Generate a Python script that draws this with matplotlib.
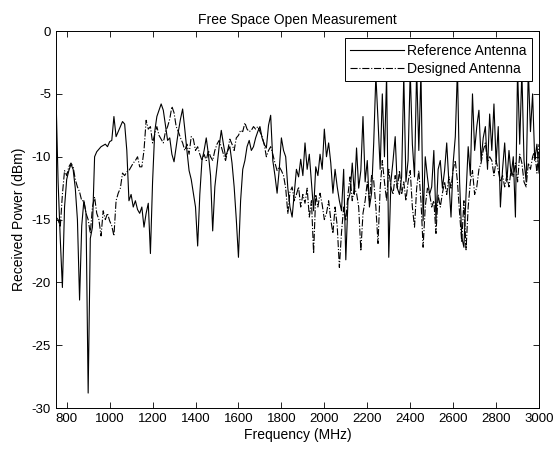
import numpy as np
from matplotlib import pyplot as plt

# frequency grid (MHz), 10 MHz step
freq = np.arange(750, 3001, 10)

# received power (dBm)
reference = [
    -5.0, -12.0, -16.5, -20.4, -14.0, -11.8, -11.1, -10.6, -11.0, -12.5,
    -15.0, -21.4, -15.5, -13.5, -14.5, -28.8, -16.5, -15.6, -10.0, -9.6,
    -9.4, -9.2, -9.1, -9.0, -9.2, -8.8, -8.7, -6.8, -8.4, -8.0,
    -7.6, -7.2, -7.4, -9.5, -13.5, -13.0, -14.0, -13.5, -14.2, -14.5,
    -14.0, -15.6, -14.5, -13.7, -17.7, -12.0, -8.0, -6.8, -6.3, -5.8,
    -6.3, -7.5, -8.7, -8.5, -9.8, -10.4, -9.2, -8.0, -7.0, -6.2,
    -7.8, -9.5, -11.1, -11.8, -12.9, -14.0, -17.1, -13.0, -10.3, -9.5,
    -8.5, -9.8, -11.5, -15.9, -12.4, -10.8, -9.2, -7.9, -9.0, -10.0,
    -9.5, -9.2, -10.5, -12.4, -15.0, -18.0, -13.5, -11.0, -10.3, -9.2,
    -8.7, -9.5, -9.2, -8.5, -8.0, -7.6, -8.5, -9.0, -9.3, -7.5,
    -6.7, -10.3, -11.5, -12.9, -11.0, -8.5, -9.5, -10.0, -12.5, -14.0,
    -14.8, -12.9, -11.0, -11.6, -10.2, -11.5, -8.9, -11.0, -9.8, -12.0,
    -14.3, -10.8, -11.5, -9.8, -11.0, -7.8, -10.0, -8.9, -10.5, -12.9,
    -11.0, -12.4, -13.5, -14.3, -11.0, -18.2, -13.5, -12.9, -10.5, -13.0,
    -9.3, -12.5, -11.1, -6.8, -12.0, -10.3, -14.0, -12.9, -8.9, -3.5,
    -7.1, -11.0, -5.0, -10.0, -3.5, -18.0, -12.0, -10.3, -8.4, -12.5,
    -13.0, -11.6, -3.5, -12.0, -10.3, -3.2, -9.0, -11.6, -3.0, -9.5,
    -3.2, -15.1, -10.0, -11.6, -13.0, -12.4, -9.5, -15.1, -11.0, -10.3,
    -12.5, -11.1, -8.9, -12.0, -14.8, -10.5, -8.4, -3.0, -12.0, -16.4,
    -17.2, -13.0, -9.2, -11.5, -5.0, -9.5, -7.6, -6.3, -10.3, -8.5,
    -7.6, -11.0, -6.6, -9.5, -5.8, -10.5, -7.6, -14.0, -11.0, -8.9,
    -12.0, -9.5, -11.5, -10.0, -14.8, -3.0, -9.0, -3.2, -10.3, -12.0,
    -3.0, -8.0, -5.0, -10.3, -9.0, -11.3,
]

designed = [
    -14.8, -15.0, -15.6, -13.0, -11.1, -11.5, -10.8, -10.5, -10.8, -11.8,
    -12.4, -12.8, -13.5, -13.5, -14.5, -15.0, -16.1, -14.0, -13.2, -14.5,
    -15.0, -16.3, -14.3, -15.0, -14.5, -15.1, -15.5, -16.3, -13.5, -12.9,
    -12.5, -11.3, -11.5, -11.2, -11.1, -10.8, -10.5, -10.3, -10.0, -10.8,
    -10.8, -9.5, -7.1, -7.8, -7.6, -8.9, -8.2, -7.6, -8.3, -8.6,
    -8.9, -8.0, -7.6, -7.0, -6.0, -6.5, -7.6, -8.0, -8.5, -8.9,
    -9.5, -9.0, -9.8, -8.4, -8.6, -9.5, -9.2, -9.8, -10.3, -9.8,
    -10.3, -9.5, -10.0, -10.3, -9.5, -9.0, -8.7, -9.2, -9.8, -10.3,
    -9.5, -8.6, -9.0, -9.5, -8.5, -8.3, -7.9, -8.0, -7.3, -7.8,
    -8.0, -7.9, -7.6, -7.8, -7.6, -8.0, -8.4, -9.0, -10.0, -9.5,
    -9.2, -9.8, -10.5, -11.1, -10.8, -11.1, -11.5, -12.5, -14.5, -12.8,
    -12.4, -13.5, -13.0, -12.4, -14.0, -13.0, -13.7, -12.5, -14.8, -13.5,
    -17.7, -13.0, -14.0, -12.9, -13.8, -15.0, -14.5, -13.5, -15.0, -16.1,
    -14.0, -15.5, -18.8, -16.0, -14.0, -15.1, -13.0, -11.6, -13.5, -12.5,
    -12.9, -14.0, -17.5, -14.5, -13.5, -12.0, -13.5, -11.5, -11.9, -14.0,
    -16.9, -12.5, -10.3, -12.0, -13.5, -11.0, -12.4, -13.0, -11.5, -12.5,
    -11.1, -13.0, -12.0, -13.5, -12.0, -11.1, -14.0, -15.6, -12.5, -11.1,
    -13.5, -17.2, -14.0, -12.5, -12.9, -14.0, -13.5, -16.1, -13.0, -14.0,
    -12.9, -12.0, -13.0, -11.6, -12.5, -11.0, -10.3, -12.0, -14.5, -16.8,
    -13.5, -17.4, -14.0, -12.0, -11.1, -13.0, -12.4, -11.0, -10.5, -9.5,
    -8.9, -10.5, -10.0, -10.3, -11.5, -10.3, -11.1, -12.0, -11.5, -12.4,
    -11.5, -12.4, -11.0, -11.6, -10.5, -12.0, -9.8, -10.5, -12.0, -12.4,
    -10.5, -11.0, -10.0, -9.5, -11.3, -9.0,
]

plt.rcParams['font.family'] = ['Liberation Sans', 'DejaVu Sans']
plt.rcParams['axes.unicode_minus'] = False

fig = plt.figure(figsize=(5.54, 4.5), dpi=100)
ax = fig.add_axes([0.101, 0.093, 0.872, 0.838])

ax.plot(freq, reference, 'k-', linewidth=0.8, label='Reference Antenna')
ax.plot(freq, designed, 'k-.', linewidth=0.8, label='Designed Antenna')

ax.set_xlim(750, 3000)
ax.set_ylim(-30, 0)
ax.set_xticks(np.arange(800, 3001, 200))
ax.set_yticks(np.arange(-30, 1, 5))
ax.tick_params(direction='in', top=True, right=True, length=4, width=0.6,
               labelsize=9.5)
for sp in ax.spines.values():
    sp.set_linewidth(0.7)

ax.set_title('Free Space Open Measurement', fontsize=10, pad=5)
ax.set_xlabel('Frequency (MHz)', fontsize=10, labelpad=2)
ax.set_ylabel('Received Power (dBm)', fontsize=10)

leg = ax.legend(loc='upper right', fancybox=False, framealpha=1, edgecolor='k',
                handlelength=3.9, handletextpad=0.2, borderaxespad=0.5,
                labelspacing=0.3, fontsize=10)
leg.get_frame().set_linewidth(0.7)

fig.savefig('out.png', dpi=100)
